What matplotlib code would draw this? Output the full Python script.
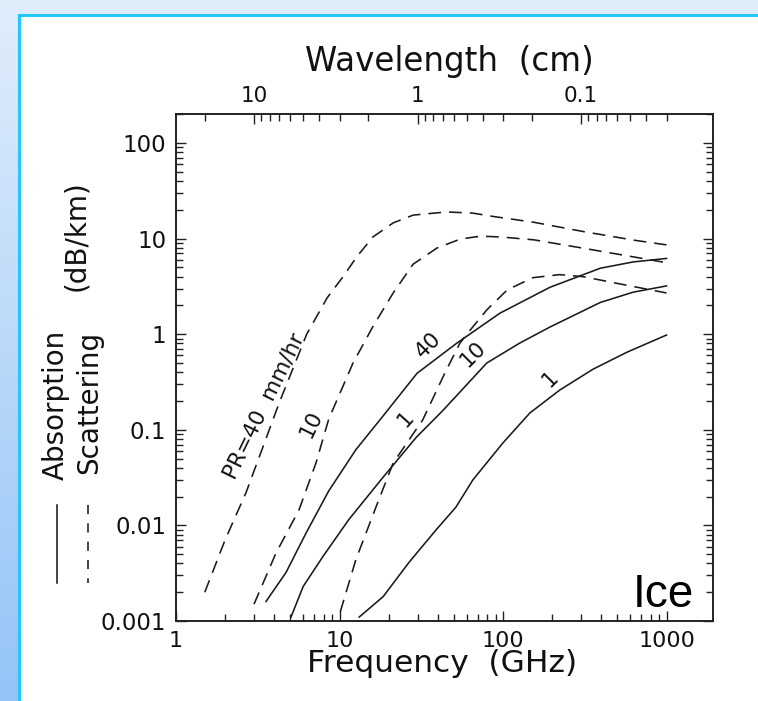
import numpy as np
import matplotlib
matplotlib.use("Agg")
import matplotlib.pyplot as plt
from matplotlib.patches import Rectangle
from matplotlib.lines import Line2D
from matplotlib.ticker import FixedLocator, NullFormatter

# ---------------- data ----------------
# Scattering (dashed), rain rate PR = 40, 10, 1 mm/hr
scat40_f = [1.5, 2.0, 2.68, 3.4, 4.27, 6.3, 8.4, 10.4, 12.8, 16, 21.3, 28.2, 45, 65, 88, 155, 314, 640, 1000]
scat40_v = [0.002, 0.0071, 0.022, 0.066, 0.19, 1.0, 2.4, 3.9, 6.5, 10.4, 14.6, 17.6, 19.0, 18.5, 17, 14.8, 11.8, 9.6, 8.6]

scat10_f = [3.0, 4.08, 5.65, 7.18, 8.6, 12.1, 16, 21.3, 28.2, 39.6, 55, 73, 97, 155, 314, 640, 1000]
scat10_v = [0.0015, 0.0051, 0.0145, 0.045, 0.13, 0.5, 1.2, 2.7, 5.4, 8.0, 9.9, 10.6, 10.4, 9.7, 7.9, 6.4, 5.6]

scat1_f = [10.1, 12.6, 16.7, 21.3, 32.3, 44, 54.6, 62.9, 79.7, 106, 152, 222, 309, 500, 1000]
scat1_v = [0.00124, 0.0044, 0.0155, 0.045, 0.127, 0.39, 0.81, 1.1, 1.8, 2.9, 3.9, 4.2, 4.0, 3.4, 2.7]

# Absorption (solid)
abs40_f = [3.55, 4.7, 6.24, 8.6, 12.6, 18.5, 29.8, 52.4, 95.8, 194, 394, 625, 1000]
abs40_v = [0.0016, 0.0032, 0.0083, 0.023, 0.062, 0.14, 0.39, 0.81, 1.66, 3.1, 4.9, 5.7, 6.2]

abs10_f = [5.05, 6.0, 7.9, 11.4, 18.5, 29.4, 43, 79.6, 127, 194, 394, 625, 1000]
abs10_v = [0.0011, 0.0023, 0.0047, 0.0115, 0.032, 0.083, 0.16, 0.50, 0.81, 1.19, 2.15, 2.75, 3.2]

abs1_f = [13.2, 18.5, 26.6, 38.8, 51.5, 65.5, 100, 146, 222, 355, 575, 1000]
abs1_v = [0.0011, 0.0018, 0.0041, 0.0089, 0.0155, 0.030, 0.073, 0.15, 0.26, 0.43, 0.65, 0.98]

x_major = [1, 10, 100, 1000]
x_major_labels = ["1", "10", "100", "1000"]
y_major = [0.001, 0.01, 0.1, 1, 10, 100]
y_major_labels = ["0.001", "0.01", "0.1", "1", "10", "100"]
wl_major = [10, 1, 0.1]
wl_major_labels = ["10", "1", "0.1"]
wl_minor = [20, 9, 8, 7, 6, 5, 4, 3, 2, 0.9, 0.8, 0.7, 0.6, 0.5, 0.4, 0.3, 0.2,
            0.09, 0.08, 0.07, 0.06, 0.05, 0.04, 0.03]
C_CM_GHZ = 30.0  # wavelength (cm) = 30 / f (GHz)

W, H = 758, 701
fig = plt.figure(figsize=(W / 100, H / 100), dpi=100)

# ---------------- slide background ----------------
bg = fig.add_axes([0, 0, 1, 1], zorder=-10)
bg.set_axis_off()
top_c = np.array([0.88, 0.93, 0.985])
bot_c = np.array([0.58, 0.77, 0.97])
t = np.linspace(0, 1, 256)[:, None, None]
grad = top_c * (1 - t) + bot_c * t
grad = np.repeat(grad, 4, axis=1)
bg.imshow(grad, extent=[0, 1, 0, 1], aspect="auto", origin="upper")
bg.add_patch(Rectangle((19 / W, -0.05), 1.2, 1 - 15 / H + 0.05, facecolor="white",
                       edgecolor="#22c8f6", lw=2.2, transform=bg.transAxes))
bg.set_xlim(0, 1)
bg.set_ylim(0, 1)

# ---------------- main axes ----------------
L, R, T, B = 176, 713, 114, 621
ax = fig.add_axes([L / W, 1 - B / H, (R - L) / W, (B - T) / H])
ax.set_facecolor("none")
ax.set_xscale("log")
ax.set_yscale("log")
ax.set_xlim(1, 10 ** ((R - L) / 163.5))
ax.set_ylim(0.001, 10 ** (-3 + (B - T) / 95.6))

lc = "#1a1a1a"
lw = 1.15
dash = (0, (8, 5))
ax.plot(scat40_f, scat40_v, color=lc, lw=lw, linestyle=dash)
ax.plot(scat10_f, scat10_v, color=lc, lw=lw, linestyle=dash)
ax.plot(scat1_f, scat1_v, color=lc, lw=lw, linestyle=dash)
ax.plot(abs40_f, abs40_v, color=lc, lw=lw)
ax.plot(abs10_f, abs10_v, color=lc, lw=lw)
ax.plot(abs1_f, abs1_v, color=lc, lw=lw)

for s in ax.spines.values():
    s.set_linewidth(1.2)
    s.set_color("#222222")

ax.xaxis.set_major_locator(FixedLocator(x_major))
ax.set_xticklabels(x_major_labels)
ax.xaxis.set_minor_locator(FixedLocator([m * d for d in [1, 10, 100] for m in range(2, 10)]))
ax.xaxis.set_minor_formatter(NullFormatter())
ax.yaxis.set_major_locator(FixedLocator(y_major))
ax.set_yticklabels(y_major_labels)
ax.yaxis.set_minor_locator(FixedLocator([m * d for d in [0.001, 0.01, 0.1, 1, 10, 100] for m in range(2, 10)]))
ax.yaxis.set_minor_formatter(NullFormatter())

ax.tick_params(which="both", direction="in", top=False, right=True, color="#222222", width=1.0)
ax.tick_params(which="major", length=7.5)
ax.tick_params(which="minor", length=5)
ax.tick_params(axis="y", which="major", labelsize=16.5, pad=7, labelcolor="#111111")
ax.tick_params(axis="x", which="major", labelsize=16, pad=7, labelcolor="#111111")

# top wavelength axis
ax2 = ax.twiny()
ax2.set_xscale("log")
ax2.set_xlim(ax.get_xlim())
ax2.xaxis.set_major_locator(FixedLocator([C_CM_GHZ / w for w in wl_major]))
ax2.set_xticklabels(wl_major_labels)
ax2.xaxis.set_minor_locator(FixedLocator([C_CM_GHZ / w for w in wl_minor]))
ax2.xaxis.set_minor_formatter(NullFormatter())
ax2.tick_params(which="both", direction="in", color="#222222", width=1.0)
ax2.tick_params(which="major", length=7.5, labelsize=15.5, pad=6, labelcolor="#111111")
ax2.tick_params(which="minor", length=5)
for s in ax2.spines.values():
    s.set_linewidth(1.2)
    s.set_color("#222222")

# ---------------- texts ----------------
def fx(px):
    return px / W

def fy(py):
    return 1 - py / H

fig.text(fx(449), fy(62), "Wavelength  (cm)", ha="center", va="center", fontsize=23.5, color="#111111")
fig.text(fx(442), fy(664), "Frequency  (GHz)", ha="center", va="center", fontsize=22.5, color="#111111")

fig.text(fx(56), fy(405), "Absorption", rotation=90, ha="center", va="center", fontsize=20, color="#111111")
fig.text(fx(89), fy(402), "Scattering", rotation=90, ha="center", va="center", fontsize=20, color="#111111")
fig.text(fx(76), fy(236), "(dB/km)", rotation=90, ha="center", va="center", fontsize=20, color="#111111")
fig.add_artist(Line2D([fx(57), fx(57)], [fy(505), fy(583)], color="#111111", lw=1.1))
fig.add_artist(Line2D([fx(88), fx(88)], [fy(505), fy(583)], color="#111111", lw=1.1,
                      linestyle=(0, (6, 6))))

lab_kw = dict(ha="center", va="center", color="#111111", rotation_mode="anchor")
fig.text(fx(264), fy(406), "PR=40  mm/hr", rotation=64, fontsize=15.5, **lab_kw)
fig.text(fx(311), fy(424), "10", rotation=64, fontsize=15.5, **lab_kw)
fig.text(fx(406), fy(419), "1", rotation=48, fontsize=15.5, **lab_kw)
fig.text(fx(428), fy(345), "40", rotation=45, fontsize=15.5, **lab_kw)
fig.text(fx(473), fy(354), "10", rotation=45, fontsize=15.5, **lab_kw)
fig.text(fx(550), fy(379), "1", rotation=45, fontsize=15.5, **lab_kw)

fig.text(fx(633), fy(607), "Ice", ha="left", va="baseline", fontsize=33,
         family=["Liberation Sans", "DejaVu Sans"], color="black")

fig.savefig("out.png", dpi=100)
